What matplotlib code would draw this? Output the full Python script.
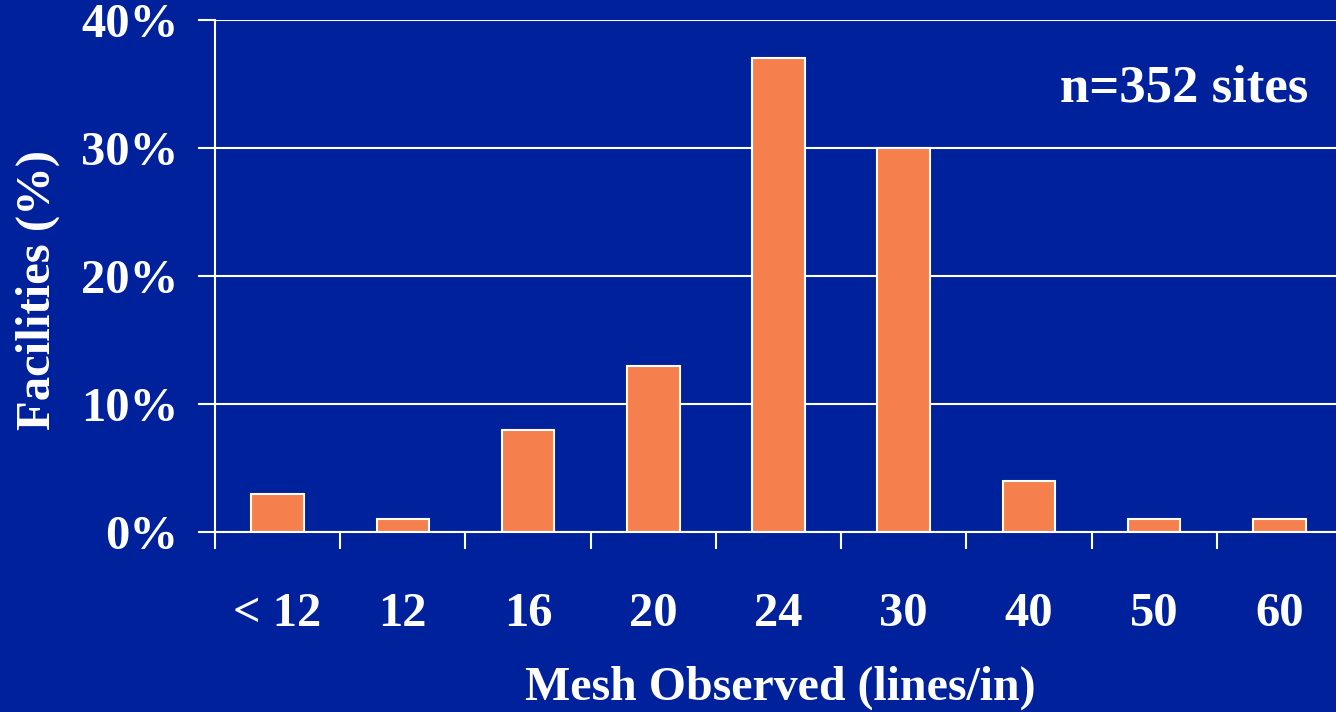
import matplotlib
matplotlib.use("Agg")
import matplotlib.pyplot as plt
import numpy as np

# Share of facilities by observed mesh count
mesh_labels = ["< 12", "12", "16", "20", "24", "30", "40", "50", "60"]
facilities_pct = [3, 1, 8, 13, 37, 30, 4, 1, 1]
y_ticks = [0, 10, 20, 30, 40]

bg = "#00219C"
bar_color = "#F5804D"

plt.rcParams["font.family"] = ["Liberation Serif", "DejaVu Serif"]
plt.rcParams["font.weight"] = "bold"

W, H = 1336, 712
fig = plt.figure(figsize=(W / 100, H / 100), dpi=100, facecolor=bg)
ax = fig.add_axes([215 / W, 180 / H, 1127 / W, 512 / H], facecolor=bg)

x = np.arange(len(mesh_labels))
ax.bar(x, facilities_pct, width=0.42, color=bar_color, edgecolor="white",
       linewidth=1.5, zorder=3)

ax.set_xlim(-0.5, len(mesh_labels) - 0.5)
ax.set_ylim(0, 40)

# gridlines
ax.set_yticks(y_ticks)
ax.set_yticklabels([f"{v}%" for v in y_ticks])
ax.yaxis.grid(True, color="white", linewidth=1.5, zorder=1)
ax.set_axisbelow(True)

ax.set_xticks(x)
ax.set_xticklabels(mesh_labels)
ax.set_xticks(np.arange(-0.5, len(mesh_labels)), minor=True)

for s in ["top", "right"]:
    ax.spines[s].set_visible(False)
for s in ["left", "bottom"]:
    ax.spines[s].set_color("white")
    ax.spines[s].set_linewidth(1.5)
    ax.spines[s].set_zorder(4)

ax.tick_params(axis="y", colors="white", length=12.5, width=1.5, pad=14,
               labelsize=35)
ax.tick_params(axis="x", which="major", length=0, pad=43, colors="white",
               labelsize=35)
ax.tick_params(axis="x", which="minor", length=12.5, width=1.5, colors="white")
for lab in ax.get_xticklabels() + ax.get_yticklabels():
    lab.set_fontweight("bold")

fig.text(1308 / W, 1 - 89 / H, "n=352 sites", color="white", fontsize=38,
         fontweight="bold", ha="right", va="center")
fig.text(38 / W, 1 - 290 / H, "Facilities (%)", color="white", fontsize=35,
         fontweight="bold", rotation=90, ha="center", va="center")
fig.text(780 / W, 1 - 688 / H, "Mesh Observed (lines/in)", color="white",
         fontsize=34.5, fontweight="bold", ha="center", va="center")

fig.savefig("out.png", dpi=100, facecolor=bg)
